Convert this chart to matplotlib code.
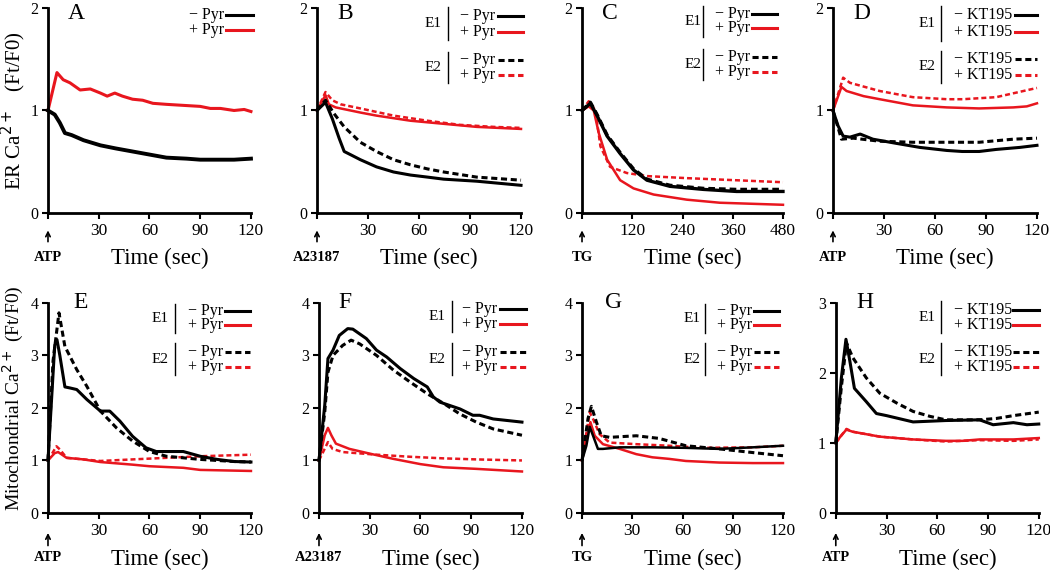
import numpy as np
import matplotlib
matplotlib.use('Agg')
import matplotlib.pyplot as plt

plt.rcParams['font.family'] = ['Liberation Serif', 'DejaVu Serif']

RED = '#e8161e'
BLK = '#000000'

# ---------------- data ----------------
# A: ER Ca2+, ATP
A_neg_t = [0, 4, 7, 10, 14, 21, 31, 40, 50, 60, 70, 82, 90, 110, 120]
A_neg_y = [1.0, 0.96, 0.88, 0.78, 0.76, 0.71, 0.66, 0.63, 0.60, 0.57, 0.54, 0.53, 0.52, 0.52, 0.53]
A_pos_t = [0, 5.3, 9, 13, 19, 25, 31, 35, 39.5, 44, 50, 56, 62, 70, 80, 90, 96, 102, 110, 116, 120]
A_pos_y = [1.0, 1.37, 1.30, 1.27, 1.20, 1.21, 1.17, 1.14, 1.17, 1.14, 1.11, 1.10, 1.07, 1.06, 1.05, 1.04, 1.02, 1.02, 1.00, 1.01, 0.99]

# B: ER Ca2+, A23187
B_e1neg_t = [0, 5, 9, 13, 16, 19.6, 25.5, 35, 45, 55, 65, 74.5, 94, 120]
B_e1neg_y = [1.0, 1.08, 0.92, 0.73, 0.60, 0.57, 0.52, 0.45, 0.40, 0.37, 0.35, 0.33, 0.31, 0.27]
B_e1pos_t = [0, 5, 7, 11, 25.5, 35, 55, 74.5, 94, 120]
B_e1pos_y = [1.0, 1.15, 1.06, 1.03, 0.98, 0.95, 0.90, 0.87, 0.84, 0.82]
B_e2neg_t = [0, 5, 10, 16, 25.5, 35, 45, 55, 65, 74.5, 94, 120]
B_e2neg_y = [1.0, 1.10, 0.97, 0.84, 0.69, 0.60, 0.52, 0.47, 0.43, 0.40, 0.35, 0.32]
B_e2pos_t = [0, 5, 9, 14, 25.5, 45, 65, 84, 104, 120]
B_e2pos_y = [1.0, 1.18, 1.10, 1.06, 1.02, 0.95, 0.90, 0.86, 0.84, 0.83]

# C: ER Ca2+, TG (0-480 s)
C_e1neg_t = [0, 20, 36, 60, 91, 123, 155, 210, 290, 369, 480]
C_e1neg_y = [1.0, 1.07, 0.95, 0.75, 0.58, 0.42, 0.32, 0.26, 0.23, 0.21, 0.21]
C_e1pos_t = [0, 16, 28, 40, 60, 91, 123, 171, 250, 329, 480]
C_e1pos_y = [1.0, 1.04, 1.00, 0.78, 0.52, 0.32, 0.24, 0.18, 0.13, 0.10, 0.08]
C_e2neg_t = [0, 20, 36, 60, 91, 123, 155, 210, 290, 369, 480]
C_e2neg_y = [1.0, 1.08, 0.96, 0.76, 0.59, 0.43, 0.33, 0.27, 0.24, 0.23, 0.23]
C_e2pos_t = [0, 16, 32, 44, 67, 107, 155, 250, 480]
C_e2pos_y = [1.0, 1.09, 1.00, 0.65, 0.45, 0.39, 0.36, 0.34, 0.30]

# D: ER Ca2+, ATP +/- KT195
D_e1neg_t = [0, 3, 6, 10, 16, 23.5, 37, 51, 67, 76, 86, 96, 110, 120]
D_e1neg_y = [1.0, 0.85, 0.75, 0.74, 0.77, 0.72, 0.68, 0.64, 0.61, 0.60, 0.60, 0.62, 0.64, 0.66]
D_e1pos_t = [0, 5, 8, 18, 27.5, 47, 67, 86, 106, 114, 120]
D_e1pos_y = [1.0, 1.23, 1.19, 1.14, 1.11, 1.05, 1.03, 1.02, 1.03, 1.04, 1.07]
D_e2neg_t = [0, 5, 12, 27.5, 47, 67, 86, 106, 120]
D_e2neg_y = [1.0, 0.72, 0.73, 0.70, 0.69, 0.69, 0.69, 0.72, 0.73]
D_e2pos_t = [0, 6, 10, 27.5, 47, 67, 76.5, 96, 120]
D_e2pos_y = [1.0, 1.32, 1.27, 1.19, 1.13, 1.11, 1.11, 1.13, 1.22]

# E: mitochondrial Ca2+, ATP
E_e1neg_t = [0, 4, 5.3, 7, 10, 13, 17, 23, 31, 36.5, 42.5, 50, 58, 64, 74, 80, 90, 100, 110, 120]
E_e1neg_y = [1.0, 3.2, 3.3, 3.0, 2.4, 2.38, 2.35, 2.16, 1.94, 1.94, 1.75, 1.46, 1.24, 1.17, 1.17, 1.17, 1.08, 1.02, 0.98, 0.97]
E_e1pos_t = [0, 4, 6, 11, 21, 31, 50, 60, 80, 90, 120]
E_e1pos_y = [1.0, 1.14, 1.16, 1.05, 1.02, 0.97, 0.92, 0.89, 0.86, 0.82, 0.80]
E_e2neg_t = [0, 3, 6.5, 10, 17, 23, 31, 40.5, 50, 60, 70, 80, 90, 110, 120]
E_e2neg_y = [1.0, 2.9, 3.81, 3.17, 2.73, 2.41, 1.94, 1.62, 1.37, 1.17, 1.08, 1.05, 1.02, 0.98, 0.97]
E_e2pos_t = [0, 5, 7, 11, 21, 31, 50, 70, 90, 120]
E_e2pos_y = [1.0, 1.27, 1.21, 1.05, 1.02, 0.99, 1.02, 1.05, 1.08, 1.11]

# F: mitochondrial Ca2+, A23187
F_e1neg_t = [0, 3.4, 5.3, 8.3, 12, 17, 20, 24, 28, 34, 40, 48, 56, 64, 67.6, 71.5, 83.4, 91, 95, 103, 120]
F_e1neg_y = [1.0, 2.05, 2.94, 3.1, 3.38, 3.51, 3.5, 3.41, 3.32, 3.1, 2.97, 2.75, 2.56, 2.4, 2.21, 2.11, 1.98, 1.86, 1.86, 1.79, 1.73]
F_e1pos_t = [0, 3.4, 5.3, 7.3, 10, 18, 30, 44, 60, 73.5, 93, 120]
F_e1pos_y = [1.0, 1.48, 1.62, 1.48, 1.32, 1.22, 1.13, 1.03, 0.93, 0.87, 0.84, 0.79]
F_e2neg_t = [0, 3.4, 5.3, 8.3, 14, 19, 24, 34, 44, 54, 64, 74, 83, 93, 103, 120]
F_e2neg_y = [1.0, 1.92, 2.68, 3.0, 3.19, 3.29, 3.22, 3.0, 2.72, 2.49, 2.27, 2.08, 1.89, 1.73, 1.60, 1.48]
F_e2pos_t = [0, 5.3, 8, 14, 34, 54, 73.5, 93, 120]
F_e2pos_y = [1.0, 1.35, 1.22, 1.16, 1.11, 1.07, 1.04, 1.02, 1.00]

# G: mitochondrial Ca2+, TG
G_e1neg_t = [0, 2.6, 4.6, 6.6, 9.5, 12.5, 22.5, 42, 62, 82, 102, 120]
G_e1neg_y = [1.0, 1.28, 1.64, 1.47, 1.22, 1.22, 1.25, 1.25, 1.24, 1.22, 1.25, 1.28]
G_e1pos_t = [0, 2.6, 5, 7.6, 12.5, 22.5, 32.4, 42, 52, 62, 82, 102, 120]
G_e1pos_y = [1.0, 1.41, 1.73, 1.47, 1.31, 1.22, 1.12, 1.06, 1.03, 0.99, 0.96, 0.95, 0.95]
G_e2neg_t = [0, 3.6, 5.6, 8.6, 11.5, 16.5, 32.4, 46, 62, 82, 102, 120]
G_e2neg_y = [1.0, 1.80, 2.03, 1.73, 1.47, 1.44, 1.47, 1.42, 1.28, 1.22, 1.15, 1.09]
G_e2pos_t = [0, 4.6, 6.6, 10.5, 16.5, 32.4, 52, 72, 102, 120]
G_e2pos_y = [1.0, 1.92, 1.79, 1.50, 1.34, 1.31, 1.28, 1.24, 1.25, 1.28]

# H: mitochondrial Ca2+, ATP +/- KT195
H_e1neg_t = [0, 3.3, 6, 8.3, 11, 18, 24, 30, 45.7, 65, 85, 93, 105, 113, 120]
H_e1neg_y = [1.0, 1.93, 2.48, 2.17, 1.78, 1.59, 1.42, 1.39, 1.30, 1.32, 1.33, 1.26, 1.29, 1.26, 1.27]
H_e1pos_t = [0, 3.3, 6.3, 10, 26, 45.7, 65, 75, 85, 105, 120]
H_e1pos_y = [1.0, 1.11, 1.19, 1.16, 1.09, 1.05, 1.03, 1.03, 1.05, 1.05, 1.07]
H_e2neg_t = [0, 3.3, 6.3, 10, 18, 26, 36, 45.7, 55.6, 65, 85, 95, 105, 120]
H_e2neg_y = [1.0, 1.80, 2.43, 2.22, 1.93, 1.71, 1.57, 1.45, 1.38, 1.33, 1.33, 1.35, 1.39, 1.44]
H_e2pos_t = [0, 6.3, 10, 26, 45.7, 65, 85, 105, 120]
H_e2pos_y = [1.0, 1.20, 1.16, 1.09, 1.05, 1.02, 1.04, 1.03, 1.05]

# ---------------- figure ----------------
fig = plt.figure(figsize=(10.5, 5.71), dpi=100)

top_b, top_h = 0.627, 0.359
bot_b, bot_h = 0.1016, 0.368
axA = fig.add_axes([0.0457, top_b, 0.1933, top_h])
axB = fig.add_axes([0.3019, top_b, 0.1943, top_h])
axC = fig.add_axes([0.5543, top_b, 0.1914, top_h])
axD = fig.add_axes([0.7933, top_b, 0.1943, top_h])
axE = fig.add_axes([0.0457, bot_b, 0.1933, bot_h])
axF = fig.add_axes([0.3038, bot_b, 0.1933, bot_h])
axG = fig.add_axes([0.5543, bot_b, 0.1914, bot_h])
axH = fig.add_axes([0.7960, bot_b, 0.1933, bot_h])

DASH = (0, (2.0, 1.2))


def style(ax, xmax, ymax, xticks, stim, letter, lx, row):
    ax.set_xlim(0, xmax)
    ax.set_ylim(0, ymax)
    for s in ['top', 'right']:
        ax.spines[s].set_visible(False)
    for s in ['left', 'bottom']:
        ax.spines[s].set_linewidth(2)
    ax.set_xticks(xticks)
    ax.set_xticklabels([''] + [str(v) for v in xticks[1:]], fontsize=12.5)
    ax.set_yticks(range(0, ymax + 1))
    ax.set_yticklabels([str(v) for v in range(0, ymax + 1)], fontsize=11.5)
    ax.tick_params(direction='out', length=4, width=1.5, pad=3)
    ax.set_xlabel('Time (sec)', fontsize=16.5)
    ax.xaxis.set_label_coords(0.55, -0.172)
    if row == 0:
        arr = (-0.085, -0.14)
        ty = -0.215
    else:
        arr = (-0.095, -0.155)
        ty = -0.212
    ax.annotate('', xy=(0, arr[0]), xytext=(0, arr[1]),
                xycoords=('data', 'axes fraction'),
                arrowprops=dict(arrowstyle='->', lw=1.2, color='black',
                                shrinkA=0, shrinkB=0, mutation_scale=8))
    ax.text(0, ty, stim, transform=ax.get_xaxis_transform(), ha='center',
            va='center', fontsize=10.5, fontweight='bold')
    ly = 0.975 if row == 0 else 1.0
    ax.text(lx, ly, letter, transform=ax.transAxes, ha='center', va='center',
            fontsize=17)


def legend(ax, labels, tx, x0, x1, rows, ex=None, bx=None):
    # labels: list of (text, colour, linestyle)
    for (txt, col, ls), y in zip(labels, rows):
        ax.text(tx, y, txt, transform=ax.transAxes, ha='right', va='center',
                fontsize=11.5)
        ax.plot([x0, x1], [y, y], transform=ax.transAxes, color=col,
                ls=ls, lw=2.2, clip_on=False)
    if ex is not None:
        for g in range(len(rows) // 2):
            y1, y2 = rows[2 * g], rows[2 * g + 1]
            ax.text(ex, (y1 + y2) / 2, 'E%d' % (g + 1), transform=ax.transAxes,
                    ha='center', va='center', fontsize=11)
            d = (y1 - y2) * 0.55
            ax.plot([bx, bx], [y1 + d, y2 - d], transform=ax.transAxes,
                    color='black', lw=1.0, clip_on=False)


def curve(ax, t, y, col, ls, lw):
    ax.plot(t, y, color=col, ls=ls, lw=lw, clip_on=False,
            solid_joinstyle='round')


T120 = [0, 30, 60, 90, 120]

# A
curve(axA, A_pos_t, A_pos_y, RED, '-', 2.2)
curve(axA, A_neg_t, A_neg_y, BLK, '-', 2.8)
style(axA, 120, 2, T120, 'ATP', 'A', 0.14, 0)
legend(axA, [('− Pyr', BLK, '-'), ('+ Pyr', RED, '-')], 0.87, 0.875, 1.01,
       [0.966, 0.893])

# B
curve(axB, B_e1pos_t, B_e1pos_y, RED, '-', 1.8)
curve(axB, B_e2pos_t, B_e2pos_y, RED, DASH, 1.8)
curve(axB, B_e1neg_t, B_e1neg_y, BLK, '-', 2.2)
curve(axB, B_e2neg_t, B_e2neg_y, BLK, DASH, 2.2)
style(axB, 120, 2, T120, 'A23187', 'B', 0.14, 0)
legend(axB, [('− Pyr', BLK, '-'), ('+ Pyr', RED, '-'),
             ('− Pyr', BLK, DASH), ('+ Pyr', RED, DASH)],
       0.873, 0.887, 1.01, [0.962, 0.885, 0.745, 0.673], ex=0.57, bx=0.64)

# C
curve(axC, C_e1pos_t, C_e1pos_y, RED, '-', 1.8)
curve(axC, C_e2pos_t, C_e2pos_y, RED, DASH, 1.8)
curve(axC, C_e1neg_t, C_e1neg_y, BLK, '-', 2.4)
curve(axC, C_e2neg_t, C_e2neg_y, BLK, DASH, 2.4)
style(axC, 480, 2, [0, 120, 240, 360, 480], 'TG', 'C', 0.14, 0)
legend(axC, [('− Pyr', BLK, '-'), ('+ Pyr', RED, '-'),
             ('− Pyr', BLK, DASH), ('+ Pyr', RED, DASH)],
       0.836, 0.846, 0.97, [0.972, 0.9, 0.76, 0.687], ex=0.55, bx=0.60)

# D
curve(axD, D_e1pos_t, D_e1pos_y, RED, '-', 1.8)
curve(axD, D_e2pos_t, D_e2pos_y, RED, DASH, 1.8)
curve(axD, D_e1neg_t, D_e1neg_y, BLK, '-', 2.2)
curve(axD, D_e2neg_t, D_e2neg_y, BLK, DASH, 2.2)
style(axD, 120, 2, T120, 'ATP', 'D', 0.14, 0)
legend(axD, [('− KT195', BLK, '-'), ('+ KT195', RED, '-'),
             ('− KT195', BLK, DASH), ('+ KT195', RED, DASH)],
       0.877, 0.89, 1.0, [0.966, 0.883, 0.75, 0.675], ex=0.46, bx=0.53)

# E
curve(axE, E_e1pos_t, E_e1pos_y, RED, '-', 1.8)
curve(axE, E_e2pos_t, E_e2pos_y, RED, DASH, 1.8)
curve(axE, E_e1neg_t, E_e1neg_y, BLK, '-', 2.2)
curve(axE, E_e2neg_t, E_e2neg_y, BLK, DASH, 2.2)
style(axE, 120, 4, T120, 'ATP', 'E', 0.16, 1)
legend(axE, [('− Pyr', BLK, '-'), ('+ Pyr', RED, '-'),
             ('− Pyr', BLK, DASH), ('+ Pyr', RED, DASH)],
       0.862, 0.87, 0.995, [0.96, 0.893, 0.767, 0.695], ex=0.55, bx=0.625)

# F
curve(axF, F_e1pos_t, F_e1pos_y, RED, '-', 1.8)
curve(axF, F_e2pos_t, F_e2pos_y, RED, DASH, 1.8)
curve(axF, F_e1neg_t, F_e1neg_y, BLK, '-', 2.2)
curve(axF, F_e2neg_t, F_e2neg_y, BLK, DASH, 2.2)
style(axF, 120, 4, T120, 'A23187', 'F', 0.13, 1)
legend(axF, [('− Pyr', BLK, '-'), ('+ Pyr', RED, '-'),
             ('− Pyr', BLK, DASH), ('+ Pyr', RED, DASH)],
       0.877, 0.89, 1.02, [0.97, 0.9, 0.767, 0.695], ex=0.58, bx=0.655)

# G
curve(axG, G_e1pos_t, G_e1pos_y, RED, '-', 1.8)
curve(axG, G_e2pos_t, G_e2pos_y, RED, DASH, 1.8)
curve(axG, G_e1neg_t, G_e1neg_y, BLK, '-', 1.8)
curve(axG, G_e2neg_t, G_e2neg_y, BLK, DASH, 2.2)
style(axG, 120, 4, T120, 'TG', 'G', 0.155, 1)
legend(axG, [('− Pyr', BLK, '-'), ('+ Pyr', RED, '-'),
             ('− Pyr', BLK, DASH), ('+ Pyr', RED, DASH)],
       0.846, 0.855, 0.98, [0.96, 0.893, 0.767, 0.695], ex=0.545, bx=0.61)

# H
curve(axH, H_e1pos_t, H_e1pos_y, RED, '-', 1.8)
curve(axH, H_e2pos_t, H_e2pos_y, RED, DASH, 1.8)
curve(axH, H_e1neg_t, H_e1neg_y, BLK, '-', 2.2)
curve(axH, H_e2neg_t, H_e2neg_y, BLK, DASH, 2.2)
style(axH, 120, 3, T120, 'ATP', 'H', 0.143, 1)
legend(axH, [('− KT195', BLK, '-'), ('+ KT195', RED, '-'),
             ('− KT195', BLK, DASH), ('+ KT195', RED, DASH)],
       0.867, 0.875, 1.0, [0.967, 0.895, 0.767, 0.695], ex=0.45, bx=0.52)

# y labels
fig.text(0.0125, 1 - 111 / 571, 'ER Ca$^{2+}$   (Ft/F0)', rotation=90,
         ha='center', va='center', fontsize=15)
fig.text(0.0125, 1 - 398 / 571, 'Mitochondrial Ca$^{2+}$ (Ft/F0)', rotation=90,
         ha='center', va='center', fontsize=14)

fig.savefig('out.png', dpi=100)
